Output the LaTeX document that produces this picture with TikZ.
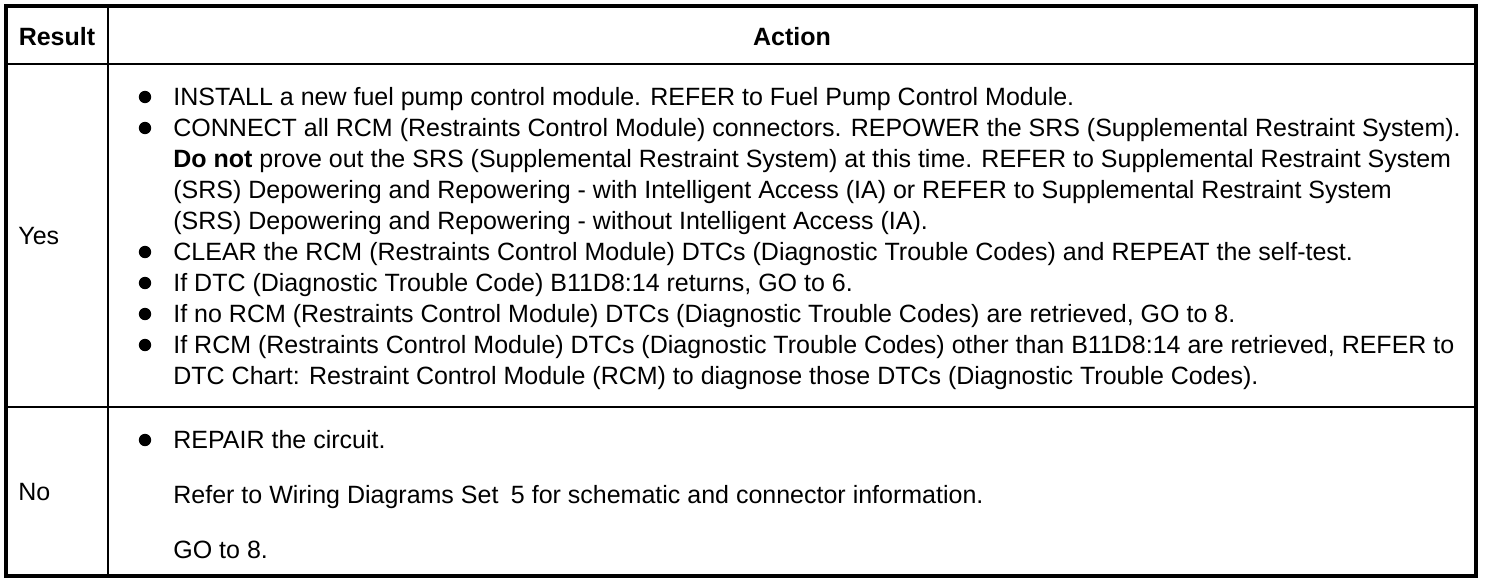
\documentclass[tikz,border=0pt]{standalone}
\usepackage{fontspec}
\setmainfont{Liberation Sans}
\usepackage{tikz}
\tikzstyle{frame} = [line width=2pt]
\tikzstyle{rule} = [line width=0.75pt]
\tikzstyle{txt} = [inner sep=0pt, anchor=base west, font=\fontsize{12.5}{15}\selectfont]
\tikzstyle{head} = [inner sep=0pt, anchor=base, font=\fontsize{12.5}{15}\selectfont\bfseries]
\tikzstyle{dot} = [circle, fill=black, inner sep=0pt, minimum size=6.2pt]

\begin{document}
\begin{tikzpicture}[x=0.5pt, y=-0.5pt]

            \useasboundingbox (0,0) rectangle (1504,584);

            % Table lines
            \draw [rule] (6,64) -- (1476,64);
            \draw [rule] (6,407) -- (1476,407);
            \draw [rule] (108,6) -- (108,576);
            \draw [frame] (6,6) rectangle (1476,576);

            % Header
            \node (res) [head] at (57,45) {Result};
            \node (act) [head] at (792,45) {Action};

            % Yes row
            \node (yes) [txt] at (18,244) {Yes};
            \node (b1) [dot] at (145,97) {};
            \node (l1) [txt] at (173,105) {INSTALL a new fuel pump control module. REFER to Fuel Pump Control Module.};
            \node (b2) [dot] at (145,128) {};
            \node (l2) [txt] at (173,136) {CONNECT all RCM (Restraints Control Module) connectors. REPOWER the SRS (Supplemental Restraint System).};
            \node (l3) [txt] at (173,167) {\textbf{Do not} prove out the SRS (Supplemental Restraint System) at this time. REFER to Supplemental Restraint System};
            \node (l4) [txt] at (173,198) {(SRS) Depowering and Repowering - with Intelligent Access (IA) or REFER to Supplemental Restraint System};
            \node (l5) [txt] at (173,229) {(SRS) Depowering and Repowering - without Intelligent Access (IA).};
            \node (b3) [dot] at (145,252) {};
            \node (l6) [txt] at (173,260) {CLEAR the RCM (Restraints Control Module) DTCs (Diagnostic Trouble Codes) and REPEAT the self-test.};
            \node (b4) [dot] at (145,283) {};
            \node (l7) [txt] at (173,291) {If DTC (Diagnostic Trouble Code) B11D8:14 returns, GO to 6.};
            \node (b5) [dot] at (145,314) {};
            \node (l8) [txt] at (173,322) {If no RCM (Restraints Control Module) DTCs (Diagnostic Trouble Codes) are retrieved, GO to 8.};
            \node (b6) [dot] at (145,345) {};
            \node (l9) [txt] at (173,353) {If RCM (Restraints Control Module) DTCs (Diagnostic Trouble Codes) other than B11D8:14 are retrieved, REFER to};
            \node (l10) [txt] at (173,384) {DTC Chart: Restraint Control Module (RCM) to diagnose those DTCs (Diagnostic Trouble Codes).};

            % No row
            \node (no) [txt] at (18,500) {No};
            \node (b7) [dot] at (145,440) {};
            \node (m1) [txt] at (173,448) {REPAIR the circuit.};
            \node (m2) [txt] at (173,503) {Refer to Wiring Diagrams Set\hspace{0.5em}5 for schematic and connector information.};
            \node (m3) [txt] at (173,558) {GO to 8.};

        \end{tikzpicture}
\end{document}
